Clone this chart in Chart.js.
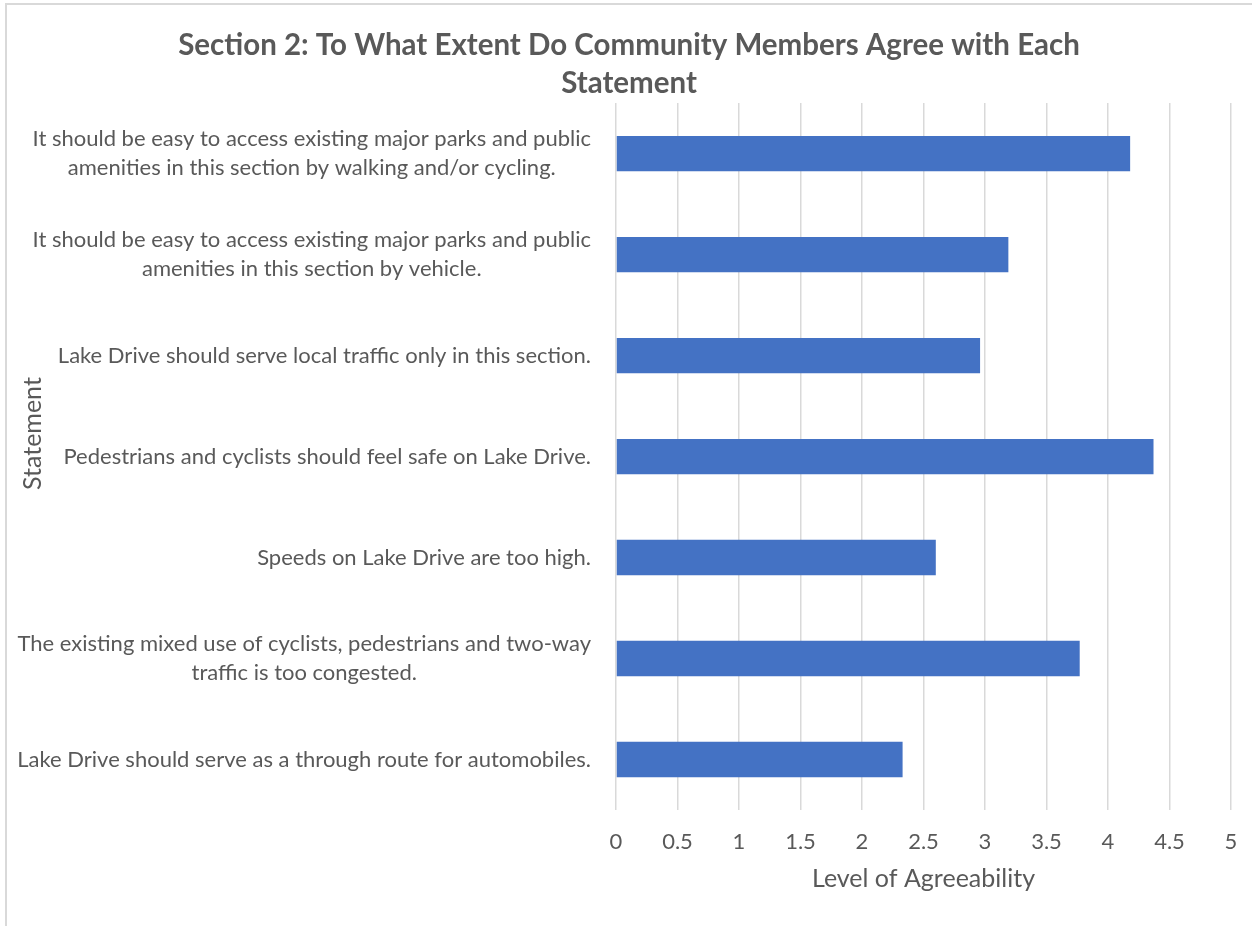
<!DOCTYPE html>
<html>
<head>
<meta charset="utf-8">
<script src="https://cdn.jsdelivr.net/npm/chart.js@4"></script>
<style>
  html, body { margin: 0; padding: 0; background: #fff; overflow: hidden; }
  .frame {
    position: absolute; left: 5px; top: 3px; width: 1245px; height: 921px;
    border-top: 2px solid #d9d9d9; border-left: 2px solid #d9d9d9;
  }
  .chartBox { position: absolute; left: 0; top: 0; width: 1252px; height: 926px; }
</style>
</head>
<body>
<div class="frame"></div>
<div class="chartBox"><canvas id="myChart"></canvas></div>
<script>
const statements = [
  ['It should be easy to access existing major parks and public', 'amenities in this section by walking and/or cycling.'],
  ['It should be easy to access existing major parks and public', 'amenities in this section by vehicle.'],
  ['Lake Drive should serve local traffic only in this section.'],
  ['Pedestrians and cyclists should feel safe on Lake Drive.'],
  ['Speeds on Lake Drive are too high.'],
  ['The existing mixed use of cyclists, pedestrians and two-way', 'traffic is too congested.'],
  ['Lake Drive should serve as a through route for automobiles.']
];
const agreeability = [4.18, 3.19, 2.96, 4.37, 2.60, 3.77, 2.33];
const xTicks = [0, 0.5, 1, 1.5, 2, 2.5, 3, 3.5, 4, 4.5, 5];
const yTitle = 'Statement';

const textColor = '#595959';
const fontFamily = 'Lato, "Open Sans", sans-serif';
const labelSize = 22;

// y labels are drawn here so wrapped lines sit centred under each other,
// with the block right-aligned against the axis (chart.js would right-align every line).
// The axis title sits a little above the middle of the plot, so it is drawn here too.
const statementLabels = {
  id: 'statementLabels',
  afterDraw(chart) {
    const ctx = chart.ctx;
    const area = chart.chartArea;
    const yScale = chart.scales.y;
    const right = area.left - 25;
    const lineHeight = 29;
    ctx.save();
    ctx.font = labelSize + 'px ' + fontFamily;
    ctx.fillStyle = textColor;
    ctx.textAlign = 'center';
    ctx.textBaseline = 'middle';
    statements.forEach((lines, i) => {
      const widest = Math.max(...lines.map(l => ctx.measureText(l).width));
      const cx = right - widest / 2;
      const cy = yScale.getPixelForTick(i);
      const top = cy - (lines.length - 1) * lineHeight / 2;
      lines.forEach((line, j) => ctx.fillText(line, cx, top + j * lineHeight));
    });

    ctx.font = '25px ' + fontFamily;
    ctx.translate(33, (area.top + area.bottom) / 2 - 23);
    ctx.rotate(-Math.PI / 2);
    ctx.fillText(yTitle, 0, 0);
    ctx.restore();
  }
};

const ctx = document.getElementById('myChart').getContext('2d');
new Chart(ctx, {
  type: 'bar',
  data: {
    labels: statements,
    datasets: [{
      data: agreeability,
      backgroundColor: '#4472C4',
      borderWidth: 0,
      barPercentage: 0.35,
      categoryPercentage: 1
    }]
  },
  plugins: [statementLabels],
  options: {
    indexAxis: 'y',
    responsive: true,
    maintainAspectRatio: false,
    animation: false,
    layout: { padding: { top: 0, right: 21, bottom: 27.6, left: 27 } },
    plugins: {
      legend: { display: false },
      tooltip: { enabled: false },
      title: {
        display: true,
        text: ['Section 2: To What Extent Do Community Members Agree with Each', 'Statement'],
        color: textColor,
        font: { family: fontFamily, size: 29.5, weight: 'bold', lineHeight: 1.29 },
        padding: { top: 26, bottom: 1 }
      }
    },
    scales: {
      x: {
        min: 0,
        max: 5,
        afterBuildTicks: scale => { scale.ticks = xTicks.map(v => ({ value: v })); },
        // invisible tick marks give the gap under the plot; tick padding would also widen the right margin
        grid: { color: '#d9d9d9', lineWidth: 1.5, drawTicks: true, tickLength: 19, tickColor: 'rgba(0,0,0,0)' },
        border: { display: false },
        ticks: {
          color: textColor,
          padding: 0,
          font: { family: fontFamily, size: 22 },
          callback: value => String(value)
        },
        title: {
          display: true,
          text: 'Level of Agreeability',
          color: textColor,
          font: { family: fontFamily, size: 25 },
          padding: { top: 9, bottom: 4 }
        }
      },
      y: {
        afterFit: scale => { scale.width = 589; },
        grid: { display: false },
        border: { display: false },
        ticks: { display: false }
      }
    }
  }
});
</script>
</body>
</html>
